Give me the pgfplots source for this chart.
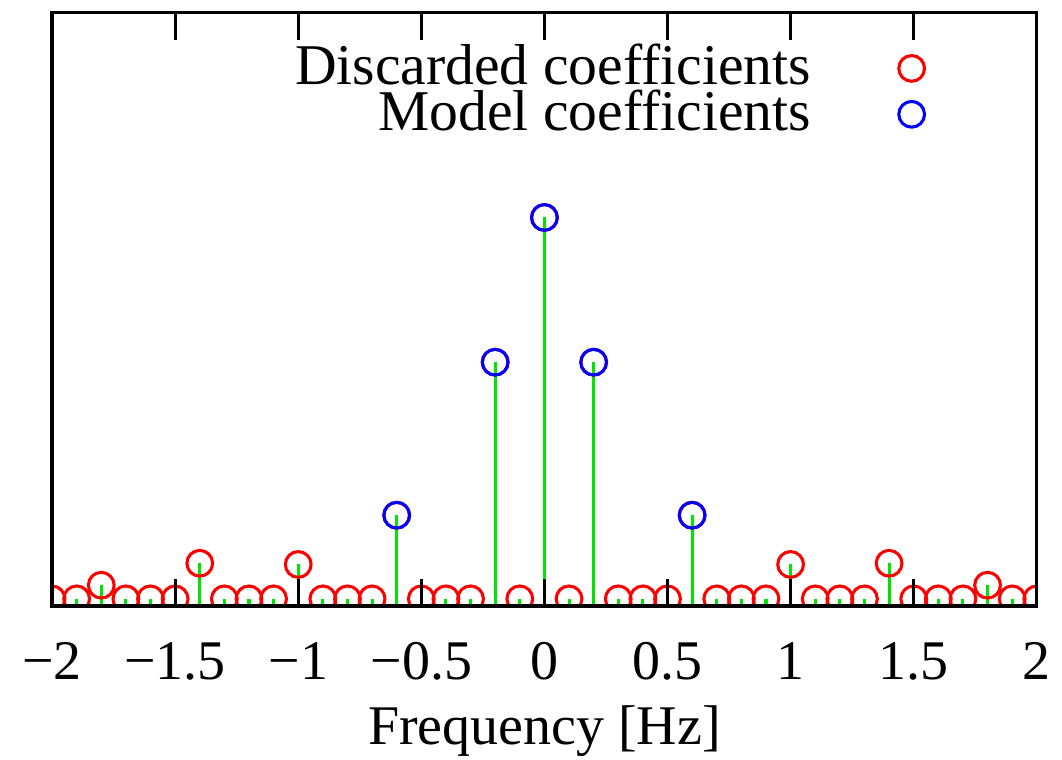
\documentclass[border=0pt]{standalone}
\usepackage{pgfplots}
\pgfplotsset{compat=1.18}
\usepackage{fontspec}
\setmainfont{Liberation Serif}

% Spectrum coefficients on a 0.1 Hz grid
\pgfplotstableread{
f     a
-2.0  0.012
-1.9  0.012
-1.8  0.035
-1.7  0.012
-1.6  0.012
-1.5  0.012
-1.4  0.072
-1.3  0.012
-1.2  0.012
-1.1  0.012
-1.0  0.070
-0.9  0.012
-0.8  0.012
-0.7  0.012
-0.6  0.153
-0.5  0.012
-0.4  0.012
-0.3  0.012
-0.2  0.411
-0.1  0.012
 0.0  0.655
 0.1  0.012
 0.2  0.411
 0.3  0.012
 0.4  0.012
 0.5  0.012
 0.6  0.153
 0.7  0.012
 0.8  0.012
 0.9  0.012
 1.0  0.070
 1.1  0.012
 1.2  0.012
 1.3  0.012
 1.4  0.072
 1.5  0.012
 1.6  0.012
 1.7  0.012
 1.8  0.035
 1.9  0.012
 2.0  0.012
}\allcoef

% Coefficients kept in the model
\pgfplotstableread{
f     a
-0.6  0.153
-0.2  0.411
 0.0  0.655
 0.2  0.411
 0.6  0.153
}\modelcoef

\begin{document}
\begin{tikzpicture}
\begin{axis}[
  name=ax,
  scale only axis,
  width=176pt, height=106pt,
  xmin=-2, xmax=2, ymin=0, ymax=1,
  axis on top,
  clip marker paths=true,
  axis line style={black, line width=0.55pt},
  tick align=inside,
  major tick length=4.8pt,
  every tick/.style={black, line width=0.55pt},
  xtick={-2,-1.5,-1,-0.5,0,0.5,1,1.5,2},
  xticklabels={−2,−1.5,−1,−0.5,0,0.5,1,1.5,2},
  xticklabel style={yshift=-3pt},
  ytick=\empty,
  xlabel={Frequency [Hz]},
  xlabel style={at={(axis description cs:0.5,0)}, anchor=base, yshift=-24.7pt},
  legend plot pos=right,
  legend cell align=right,
  legend style={draw=none, fill=none, inner sep=0pt, outer sep=0pt,
    column sep=13.7pt,
    at={(rel axis cs:0.886,0.945)}, anchor=north east,
    font=\fontsize{10.3pt}{12pt}\selectfont,
    nodes={text height=7pt, text depth=1.2pt, inner ysep=0pt}},
]
\addplot[ycomb, green!90!black, line width=0.55pt, forget plot] table[x=f, y=a] {\allcoef};
\addplot[only marks, mark=o, mark size=2.3pt, red, mark options={line width=0.55pt}] table[x=f, y=a] {\allcoef};
\addlegendentry{Discarded coefficients}
\addplot[only marks, mark=o, mark size=2.3pt, blue, mark options={line width=0.55pt}] table[x=f, y=a] {\modelcoef};
\addlegendentry{Model coefficients}
\end{axis}
\pgfresetboundingbox
\path ([xshift=-9.3pt, yshift=-27.4pt]ax.south west) rectangle ([xshift=4.5pt, yshift=2.3pt]ax.north east);
\end{tikzpicture}
\end{document}
